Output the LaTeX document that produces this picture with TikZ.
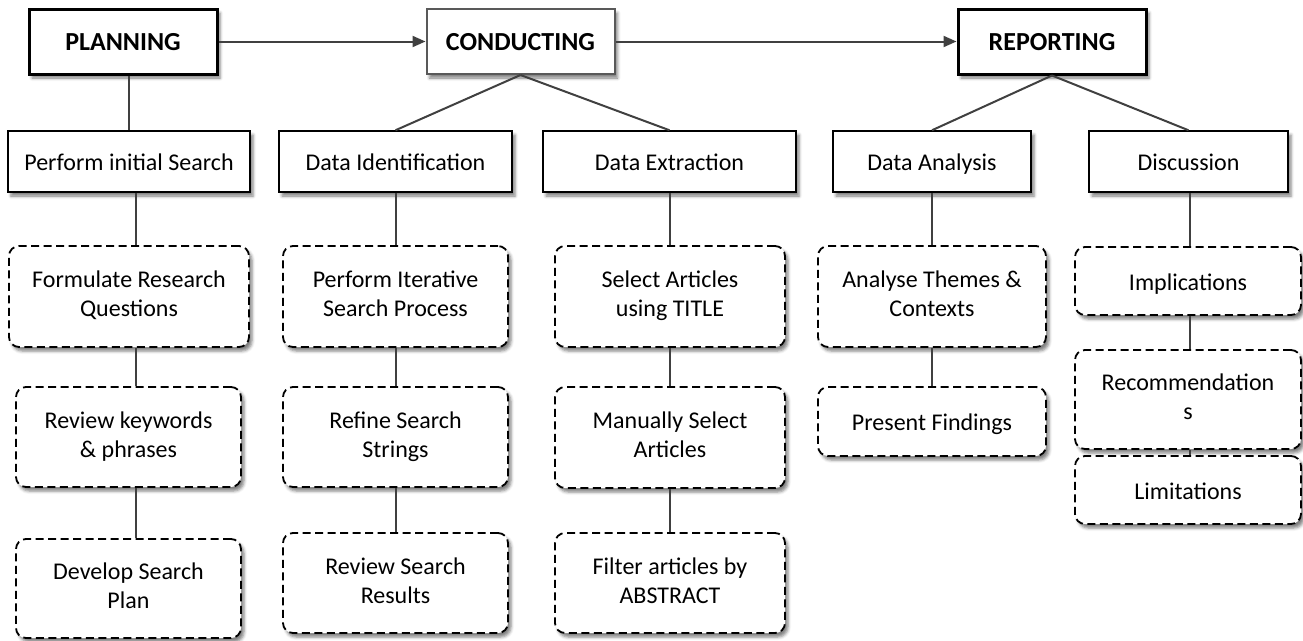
\documentclass[tikz,border=0pt]{standalone}
\usepackage{fontspec}
\setmainfont{Carlito}
\usetikzlibrary{shadows.blur,arrows.meta}
\newcommand\lnstrut{\rule[-5pt]{0pt}{28.5pt}}
\begin{document}
\begin{tikzpicture}[x=1pt,y=-1pt,
  every node/.style={font=\fontsize{24}{29}\selectfont, align=center, inner sep=0pt,
    execute at begin node={\lnstrut}, execute at end node={\lnstrut}},
  shd/.style={blur shadow={shadow xshift=3pt, shadow yshift=-4pt, shadow blur radius=3pt, shadow opacity=50}},
  phase/.style={draw=black, line width=3pt, fill=white, shd,
    font=\fontsize{26}{31}\selectfont\bfseries, minimum width=188, minimum height=65},
  phasethin/.style={phase, draw=black!65, line width=2pt},
  sub/.style={draw=black, line width=1.5pt, fill=white, shd, minimum height=61},
  task/.style={draw=black, line width=1.8pt, dash pattern=on 8pt off 4.5pt,
    rounded corners=10pt, fill=white, shd},
  conn/.style={draw=black!75, line width=2pt},
  flow/.style={draw=black!75, line width=2pt, -{Triangle[length=13pt,width=11pt]}}
]
\useasboundingbox (0,0) rectangle (1303,640);

% phases
\node[phase] (plan) at (123,41.5) {PLANNING};
\node[phasethin] (cond) at (520.5,41.5) {CONDUCTING};
\node[phase] (rep) at (1052,41.5) {REPORTING};

% second level
\node[sub, minimum width=242] (ps) at (129,161.5) {Perform initial Search};
\node[sub, minimum width=233] (di) at (395.5,161.5) {Data Identification};
\node[sub, minimum width=253] (de) at (669.5,161.5) {Data Extraction};
\node[sub, minimum width=198] (da) at (932,161.5) {Data Analysis};
\node[sub, minimum width=199] (disc) at (1188.5,161.5) {Discussion};

% column 1
\node[task, minimum width=240, minimum height=101] (frq) at (129,296.5) {Formulate Research\\Questions};
\node[task, minimum width=225, minimum height=100] (rkp) at (128.5,437) {Review keywords\\\& phrases};
\node[task, minimum width=225, minimum height=99] (dsp) at (128.5,588.5) {Develop Search\\Plan};

% column 2
\node[task, minimum width=225, minimum height=101] (pisp) at (395.5,296.5) {Perform Iterative\\Search Process};
\node[task, minimum width=225, minimum height=100] (rss) at (395.5,437) {Refine Search\\Strings};
\node[task, minimum width=225, minimum height=100] (rsr) at (395.5,583) {Review Search\\Results};

% column 3
\node[task, minimum width=230, minimum height=101] (sat) at (670,296.5) {Select Articles\\using TITLE};
\node[task, minimum width=230, minimum height=101] (msa) at (670,437.5) {Manually Select\\Articles};
\node[task, minimum width=230, minimum height=100] (fab) at (670,583) {Filter articles by\\ABSTRACT};

% column 4
\node[task, minimum width=228, minimum height=101] (atc) at (932,296.5) {Analyse Themes \&\\Contexts};
\node[task, minimum width=228, minimum height=69] (pf) at (932,421.5) {Present Findings};

% column 5
\node[task, minimum width=226, minimum height=68] (imp) at (1188,281) {Implications};
\node[task, minimum width=226, minimum height=99] (rec) at (1188,399.5) {Recommendation\\s};
\node[task, minimum width=226, minimum height=68] (lim) at (1188,490) {Limitations};

% flow arrows
\draw[flow] (plan.east) -- (cond.west);
\draw[flow] (cond.east) -- (rep.west);

% tree connectors
\draw[conn] (ps.north |- plan.south) -- (ps.north);
\draw[conn] (cond.south) -- (di.north);
\draw[conn] (cond.south) -- (de.north);
\draw[conn] (rep.south) -- (da.north);
\draw[conn] (rep.south) -- (disc.north);

\draw[conn] ([xshift=7pt]ps.south) -- ([xshift=7pt]ps.south |- frq.north);
\draw[conn] ([xshift=7pt]frq.south) -- ([xshift=7pt]frq.south |- rkp.north);
\draw[conn] ([xshift=7pt]rkp.south) -- ([xshift=7pt]rkp.south |- dsp.north);

\draw[conn] (di.south) -- (pisp.north);
\draw[conn] (pisp.south) -- (rss.north);
\draw[conn] (rss.south) -- (rsr.north);

\draw[conn] (de.south) -- (de.south |- sat.north);
\draw[conn] (sat.south) -- (msa.north);
\draw[conn] (msa.south) -- (fab.north);

\draw[conn] (da.south) -- (atc.north);
\draw[conn] (atc.south) -- (pf.north);

\draw[conn] ([xshift=1.5pt]disc.south) -- ([xshift=1.5pt]disc.south |- imp.north);
\draw[conn] ([xshift=2pt]imp.south) -- ([xshift=2pt]imp.south |- rec.north);
\draw[conn] ([xshift=2pt]rec.south) -- ([xshift=2pt]rec.south |- lim.north);
\end{tikzpicture}
\end{document}
